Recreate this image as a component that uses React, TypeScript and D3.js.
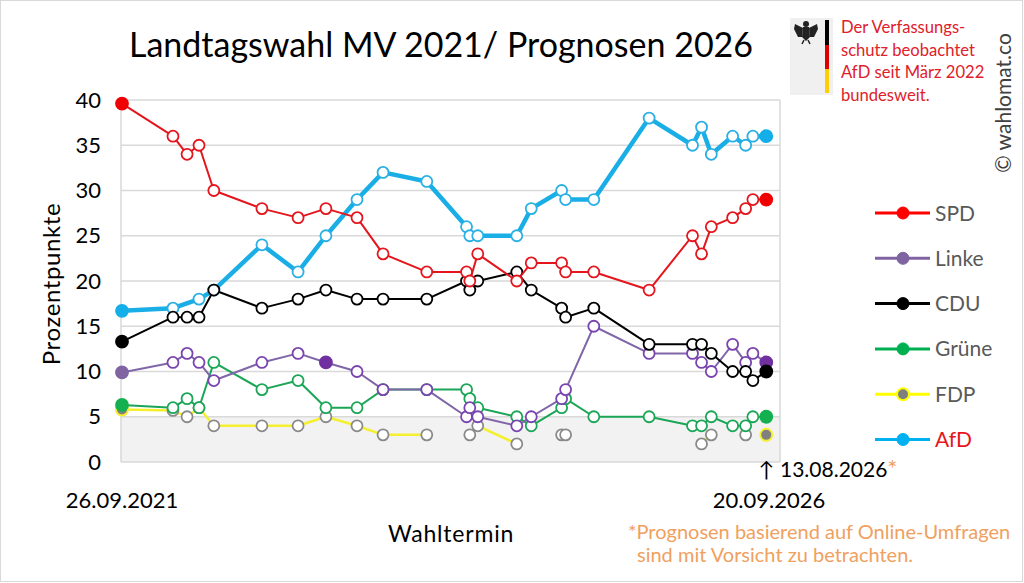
import * as d3 from 'd3';
import React from 'react';

// poll dates (Wahl 2021, Umfragen, Prognose)
const pollDates = [
  '26.09.2021', '14.02.2022', '25.03.2022', '27.04.2022', '07.06.2022', '18.10.2022', '26.01.2023',
  '13.04.2023', '08.07.2023', '18.09.2023', '17.01.2024', '06.05.2024', '15.05.2024', '06.06.2024',
  '22.09.2024', '01.11.2024', '24.01.2025', '04.02.2025', '23.04.2025', '23.09.2025', '21.01.2026',
  '15.02.2026', '14.03.2026', '12.05.2026', '17.06.2026', '07.07.2026', '13.08.2026',
];

const spd = [39.6, 36, 34, 35, 30, 28, 27, 28, 27, 23, 21, 21, 20, 23, 20, 22, 22, 21, 21, 19, 25, 23, 26, 27, 28, 29, 29];
const linke = [9.9, 11, 12, 11, 9, 11, 12, 11, 10, 8, 8, 5, 6, 5, 4, 5, 7, 8, 15, 12, 12, 11, 10, 13, 11, 12, 11];
const cdu = [13.3, 16, 16, 16, 19, 17, 18, 19, 18, 18, 18, 20, 19, 20, 21, 19, 17, 16, 17, 13, 13, 13, 12, 10, 10, 9, 10];
const gruene = [6.3, 6, 7, 6, 11, 8, 9, 6, 6, 8, 8, 8, 7, 6, 5, 4, 6, 7, 5, 5, 4, 4, 5, 4, 4, 5, 5];
const fdp = [5.8, 5.7, 5, 6, 4, 4, 4, 5, 4, 3, 3, null, 3, 4, 2, null, 3, 3, null, null, null, 2, 3, null, 3, null, 3];
const afd = [16.7, 17, null, 18, 19, 24, 21, 25, 29, 32, 31, 26, 25, 25, 25, 28, 30, 29, 29, 38, 35, 37, 34, 36, 35, 36, 36];

const yTicks = [0, 5, 10, 15, 20, 25, 30, 35, 40];
const legendNames = ['SPD', 'Linke', 'CDU', 'Grüne', 'FDP', 'AfD'];
const noteLines = ['Der Verfassungs-', 'schutz beobachtet', 'AfD seit März 2022', 'bundesweit.'];

const parse = d3.timeParse('%d.%m.%Y');

const FONT = 'Lato, "Open Sans", sans-serif';

type Series = {
  name: string;
  values: (number | null)[];
  line: string;
  width: number;
  stroke: string;
  fill: string;
  ring?: string;
  filled: number[];
  gaps: boolean;
};

const series: Series[] = [
  { name: 'AfD', values: afd, line: '#1aaee6', width: 4.5, stroke: '#2ab0e4', fill: '#14aee8', filled: [0, 26], gaps: false },
  { name: 'FDP', values: fdp, line: '#f4f030', width: 2.5, stroke: '#8a8a8a', fill: '#808080', ring: '#f4f030', filled: [0, 26], gaps: true },
  { name: 'Grüne', values: gruene, line: '#1aa656', width: 2, stroke: '#1aa656', fill: '#14b050', filled: [0, 26], gaps: false },
  { name: 'Linke', values: linke, line: '#8066a8', width: 2, stroke: '#7a44b0', fill: '#7030a0', filled: [0, 7, 26], gaps: false },
  { name: 'CDU', values: cdu, line: '#000000', width: 2, stroke: '#000000', fill: '#000000', filled: [0, 26], gaps: false },
  { name: 'SPD', values: spd, line: '#e4151c', width: 2, stroke: '#e4151c', fill: '#f00000', filled: [0, 26], gaps: false },
];

const legendStyle = {
  SPD: { line: '#ff0000', dot: '#ff0000' },
  Linke: { line: '#8064a2', dot: '#8064a2' },
  CDU: { line: '#000000', dot: '#000000' },
  Grüne: { line: '#00b050', dot: '#00b050' },
  FDP: { line: '#ffff00', dot: '#7f7f7f' },
  AfD: { line: '#00b0f0', dot: '#00b0f0' },
};

const App = () => {
  const W = 1024;
  const H = 583;
  const dates = pollDates.map((d) => parse(d) as Date);

  const x = d3
    .scaleTime()
    .domain([parse('26.09.2021') as Date, parse('20.09.2026') as Date])
    .range([122, 780]);
  const y = d3.scaleLinear().domain([0, 40]).range([462, 100]);

  const plotLeft = 121;
  const plotRight = 780;

  return (
    <svg width={W} height={H} style={{ position: 'absolute', left: 0, top: 0, background: '#fff' }} fontFamily={FONT}>
      <rect x={0.5} y={0.5} width={W - 2} height={H - 2} fill="#fff" stroke="#d9d9d9" />

      {/* title */}
      <text x={441} y={57} textAnchor="middle" fontSize={34} fill="#000">
        Landtagswahl MV 2021/ Prognosen 2026
      </text>

      {/* plot area */}
      <rect x={plotLeft} y={y(5)} width={plotRight - plotLeft} height={y(0) - y(5)} fill="#f2f2f2" />
      {yTicks.map((t) => (
        <g key={t}>
          <line x1={plotLeft} x2={plotRight} y1={y(t)} y2={y(t)} stroke="#d9d9d9" strokeWidth={1.5} />
          <text x={101} y={y(t) + 7.5} textAnchor="end" fontSize={22} fill="#000">
            {t}
          </text>
        </g>
      ))}
      <line x1={plotLeft} x2={plotLeft} y1={y(40)} y2={y(0)} stroke="#d9d9d9" strokeWidth={1.5} />
      <line x1={plotRight} x2={plotRight} y1={y(40)} y2={y(0)} stroke="#d9d9d9" strokeWidth={1.5} />

      {/* series */}
      {series.map((s) => {
        const pts = s.values.map((v, i) => ({ d: dates[i], v, i }));
        const line = d3
          .line<any>()
          .x((p) => x(p.d))
          .y((p) => y(p.v));
        const path = s.gaps ? line.defined((p) => p.v != null)(pts) : line(pts.filter((p) => p.v != null));
        return (
          <g key={s.name}>
            <path d={path || ''} fill="none" stroke={s.line} strokeWidth={s.width} strokeLinejoin="round" />
            {pts
              .filter((p) => p.v != null)
              .map((p) => {
                const filled = s.filled.includes(p.i);
                const fillCol = p.i === 0 && s.name === 'Linke' ? '#8064a2' : s.fill;
                return (
                  <circle
                    key={p.i}
                    cx={x(p.d)}
                    cy={y(p.v)}
                    r={filled ? 6 : 5.5}
                    fill={filled ? fillCol : '#fff'}
                    stroke={filled ? s.ring || fillCol : s.stroke}
                    strokeWidth={filled && s.ring ? 2 : 1.8}
                  />
                );
              })}
          </g>
        );
      })}

      {/* axis titles */}
      <text transform="translate(60,284) rotate(-90)" textAnchor="middle" fontSize={24} letterSpacing={0.6} fill="#000">
        Prozentpunkte
      </text>
      <text x={451} y={542} textAnchor="middle" fontSize={23} letterSpacing={0.8} fill="#000">
        Wahltermin
      </text>
      <text x={x(dates[0])} y={508} textAnchor="middle" fontSize={22} fill="#000">
        26.09.2021
      </text>
      <text x={x.range()[1] - 11} y={508} textAnchor="middle" fontSize={22} fill="#000">
        20.09.2026
      </text>
      <text x={x(dates[dates.length - 1])} y={477} textAnchor="middle" fontSize={21} fill="#000">
        ↑
      </text>
      <text x={780} y={477} fontSize={21} fill="#000">
        13.08.2026<tspan fill="#f0a060" fontSize={24}>*</tspan>
      </text>
      <text x={628} y={539} fontSize={20} fill="#f0a060">
        *Prognosen basierend auf Online-Umfragen
      </text>
      <text x={637} y={562} fontSize={20} fill="#f0a060">
        sind mit Vorsicht zu betrachten.
      </text>

      {/* legend */}
      {legendNames.map((n, i) => {
        const ly = 213 + i * 45.3;
        const st = legendStyle[n];
        return (
          <g key={n}>
            <line x1={875} x2={930} y1={ly} y2={ly} stroke={st.line} strokeWidth={3} />
            <circle cx={903} cy={ly} r={6} fill={st.dot} stroke={n === 'FDP' ? '#ffff00' : st.dot} strokeWidth={n === 'FDP' ? 2 : 1} />
            <text x={935} y={ly + 7.5} fontSize={21} fill={n === 'AfD' ? '#e8141c' : '#595959'}>
              {n}
            </text>
          </g>
        );
      })}

      {/* Verfassungsschutz note */}
      <rect x={790} y={18} width={43} height={77} fill="#f0f0f0" />
      <rect x={825} y={20} width={4} height={25} fill="#000" />
      <rect x={825} y={45} width={4} height={24} fill="#dd0000" />
      <rect x={825} y={69} width={4} height={24} fill="#ffce00" />
      <g fill="#222" transform="translate(806,31)">
        <circle cx={0} cy={-7} r={3} />
        <path d="M-3,-4 L3,-4 L4,6 L0,10 L-4,6 Z" />
        <path d="M-3,-3 L-11,-7 L-12,-2 L-10,2 L-8,6 L-4,6 Z" />
        <path d="M3,-3 L11,-7 L12,-2 L10,2 L8,6 L4,6 Z" />
        <path d="M-2,9 L-4,13 M2,9 L4,13" stroke="#222" strokeWidth={1.5} />
      </g>
      {noteLines.map((t, i) => (
        <text key={t} x={841} y={33 + i * 22.5} fontSize={16.6} fill="#e0202a">
          {t}
        </text>
      ))}
      <text transform="translate(1011,103) rotate(-90)" textAnchor="middle" fontSize={21} fill="#404040">
        © wahlomat.co
      </text>
    </svg>
  );
};

export default App;
